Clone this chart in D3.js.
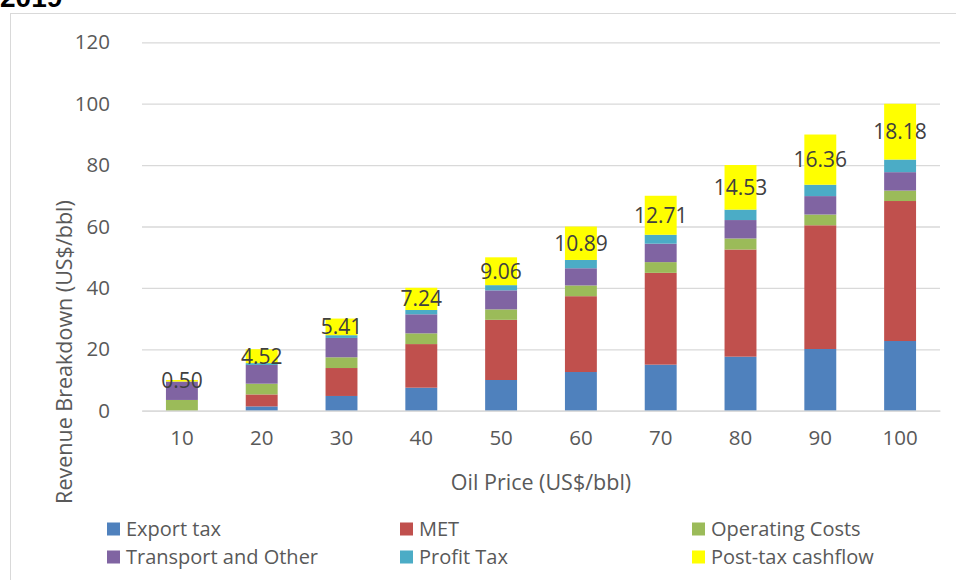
<!DOCTYPE html>
<html lang="en">
<head>
<meta charset="UTF-8">
<title>Revenue Breakdown</title>
<script src="https://d3js.org/d3.v7.min.js"></script>
<style>
    body { margin: 0; background: #fff; }
    svg { display: block; font-family: "Open Sans", sans-serif; }
</style>
</head>
<body>
<svg width="956" height="580"></svg>
<script>
    // oil price categories (US$/bbl)
    const prices = [10, 20, 30, 40, 50, 60, 70, 80, 90, 100];

    // stacked components
    const exportTax = [0, 1.4, 4.8, 7.5, 10.0, 12.6, 15.0, 17.6, 20.1, 22.7];
    const met = [0, 3.9, 9.1, 14.2, 19.6, 24.7, 29.9, 34.9, 40.3, 45.6];
    const opCosts = [3.5, 3.5, 3.5, 3.5, 3.4, 3.5, 3.5, 3.6, 3.5, 3.4];
    const transport = [6.0, 6.1, 6.3, 6.2, 6.2, 5.6, 6.0, 6.0, 6.0, 6.0];
    const profitTax = [0, 0.6, 0.9, 1.4, 1.7, 2.7, 2.9, 3.4, 3.7, 4.1];
    const cashflow = [0.50, 4.52, 5.41, 7.24, 9.06, 10.89, 12.71, 14.53, 16.36, 18.18];

    const seriesNames = ["Export tax", "MET", "Operating Costs",
        "Transport and Other", "Profit Tax", "Post-tax cashflow"];
    const seriesColors = ["#4f81bd", "#c0504d", "#9bbb59", "#8064a2", "#4bacc6", "#ffff00"];
    const yTicks = [0, 20, 40, 60, 80, 100, 120];

    let svg = d3.select("svg");

    // chart frame (only top and left edge are in view)
    svg.append("rect")
        .attr("x", 10.5).attr("y", 13.5)
        .attr("width", 1000).attr("height", 1000)
        .attr("fill", "none").attr("stroke", "#d9d9d9");

    // title sits above the frame, mostly cut off like the original
    svg.append("text")
        .attr("x", 0).attr("y", 7)
        .attr("font-family", "Liberation Sans, Arial, sans-serif")
        .attr("font-weight", "bold").attr("font-size", 28)
        .attr("fill", "#000").text("2019");

    const rows = prices.map((p, i) => ({
        price: p,
        "Export tax": exportTax[i],
        "MET": met[i],
        "Operating Costs": opCosts[i],
        "Transport and Other": transport[i],
        "Profit Tax": profitTax[i],
        "Post-tax cashflow": cashflow[i]
    }));

    const x = d3.scaleBand()
        .domain(prices)
        .range([142, 940])
        .paddingInner(0.6)
        .paddingOuter(0.3);

    const y = d3.scaleLinear()
        .domain([0, 120])
        .range([410.7, 42.3]);

    const color = d3.scaleOrdinal().domain(seriesNames).range(seriesColors);

    // gridlines + y labels
    const yAxis = svg.append("g").attr("transform", "translate(142,0)")
        .call(d3.axisLeft(y).tickValues(yTicks).tickSize(-798).tickPadding(32));
    yAxis.select(".domain").remove();
    yAxis.selectAll("line").attr("stroke", "#d9d9d9").attr("stroke-width", 1.3);
    yAxis.selectAll("text")
        .attr("font-family", "Open Sans, sans-serif")
        .attr("font-size", 20.5).attr("fill", "#595959");

    // stacked bars
    const stack = d3.stack().keys(seriesNames)(rows);

    svg.append("g").selectAll("g")
        .data(stack)
        .join("g")
        .attr("fill", d => color(d.key))
        .selectAll("rect")
        .data(d => d)
        .join("rect")
        .attr("x", d => x(d.data.price))
        .attr("width", x.bandwidth())
        .attr("y", d => y(d[1]))
        .attr("height", d => y(d[0]) - y(d[1]));

    // x axis labels
    const xAxis = svg.append("g").attr("transform", "translate(0,410.7)")
        .call(d3.axisBottom(x).tickSize(0).tickPadding(20));
    xAxis.select(".domain").attr("stroke", "#d9d9d9").attr("stroke-width", 1.3);
    xAxis.selectAll("text")
        .attr("font-family", "Open Sans, sans-serif")
        .attr("font-size", 20.5).attr("fill", "#595959");

    // data labels on the cashflow segment
    const last = stack[stack.length - 1];
    svg.append("g").selectAll("text")
        .data(last)
        .join("text")
        .attr("x", d => x(d.data.price) + x.bandwidth() / 2)
        .attr("y", d => y((d[0] + d[1]) / 2))
        .attr("dy", "0.35em")
        .attr("text-anchor", "middle")
        .attr("font-size", 21)
        .attr("fill", "#404040")
        .text(d => d3.format(".2f")(d.data["Post-tax cashflow"]));

    // axis titles
    svg.append("text")
        .attr("transform", "translate(72,352) rotate(-90)")
        .attr("text-anchor", "middle")
        .attr("font-size", 21.5).attr("fill", "#595959")
        .text("Revenue Breakdown (US$/bbl)");

    svg.append("text")
        .attr("x", 541).attr("y", 490)
        .attr("text-anchor", "middle")
        .attr("font-size", 21.5).attr("fill", "#595959")
        .text("Oil Price (US$/bbl)");

    // legend, 3 columns x 2 rows
    const legendCols = [107, 400, 692];
    const legendRows = [529, 557];
    const legend = svg.append("g").selectAll("g")
        .data(seriesNames)
        .join("g")
        .attr("transform", (d, i) => `translate(${legendCols[i % 3]},${legendRows[Math.floor(i / 3)]})`);
    legend.append("rect")
        .attr("x", 0).attr("y", -6.5)
        .attr("width", 13).attr("height", 13)
        .attr("fill", d => color(d));
    legend.append("text")
        .attr("x", 19).attr("dy", "0.35em")
        .attr("font-size", 20).attr("fill", "#595959")
        .text(d => d);
</script>
</body>
</html>
